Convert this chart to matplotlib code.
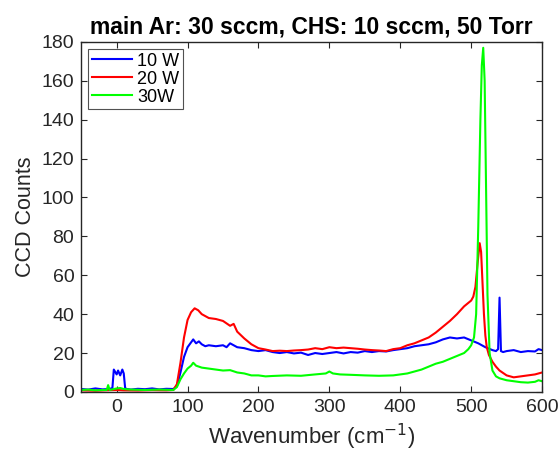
import matplotlib
matplotlib.use('Agg')
import matplotlib.pyplot as plt

plt.rcParams['font.family'] = ['Liberation Sans', 'DejaVu Sans']

# 10 W
x_10 = [-50, -40, -30, -20, -10, -6, -4, 0, 2, 5, 8, 10, 12, 14, 20, 30, 40, 50, 60, 70, 80,
        85, 90, 95, 100, 105, 108, 112, 116, 120, 125, 130, 140, 150, 155, 160, 170, 180, 190,
        200, 210, 220, 230, 240, 250, 260, 270, 280, 290, 300, 310, 320, 330, 340, 350, 360,
        370, 380, 390, 400, 410, 420, 430, 440, 450, 460, 470, 480, 490, 500, 510, 520, 530,
        535, 538, 540, 542, 545, 550, 560, 570, 580, 590, 595, 600]
y_10 = [1.5, 1.2, 1.8, 1.3, 1.5, 2.0, 11.5, 9.0, 11.0, 8.5, 11.5, 9.5, 2.0, 1.5, 1.2, 1.6, 1.4, 1.8, 1.3, 1.6, 1.5,
        3.0, 10.0, 18.0, 23.0, 25.5, 27.0, 25.0, 26.0, 24.5, 23.5, 24.0, 23.5, 24.0, 23.0, 25.0, 23.0, 22.5, 21.5,
        21.0, 21.5, 20.5, 20.0, 20.5, 19.8, 20.2, 19.0, 20.0, 19.5, 20.0, 20.5, 19.8, 20.5, 20.2, 21.0, 20.5,
        21.0, 20.8, 21.5, 22.0, 22.5, 23.5, 24.0, 24.5, 25.5, 27.0, 28.0, 27.5, 28.0, 26.5, 25.0, 23.0, 21.5,
        21.0, 22.0, 48.5, 21.0, 20.5, 21.0, 21.5, 20.5, 21.0, 20.8, 22.0, 21.5]

# 20 W
x_20 = [-50, -30, -10, 0, 10, 30, 50, 70, 80, 85, 90, 95, 100, 105, 110, 115, 120, 130, 140,
        150, 160, 165, 170, 180, 190, 200, 210, 220, 230, 240, 250, 260, 270, 280, 290, 300, 310,
        320, 330, 340, 350, 360, 370, 380, 390, 400, 410, 420, 430, 440, 450, 460, 470, 480, 490,
        495, 500, 503, 506, 509, 512, 514, 516, 518, 520, 522, 525, 530, 535, 540, 550, 560, 570,
        580, 590, 600]
y_20 = [0.8, 0.6, 0.9, 1.0, 0.8, 0.7, 0.9, 0.8, 1.0, 4.0, 15.0, 28.0, 37.0, 41.0, 43.0, 42.0, 40.0, 38.0, 37.5,
        36.5, 34.0, 35.0, 31.0, 27.5, 24.5, 22.5, 21.8, 21.0, 21.2, 21.0, 21.3, 21.5, 21.8, 22.5, 22.0, 23.0, 22.5,
        22.8, 22.5, 22.2, 21.8, 21.5, 21.3, 21.0, 22.0, 22.5, 24.0, 25.0, 26.5, 28.0, 30.5, 33.5, 36.5, 40.0, 44.0,
        45.5, 47.0, 49.0, 54.0, 66.0, 76.5, 72.0, 56.0, 40.0, 29.0, 23.0, 19.0, 15.5, 13.0, 11.0, 8.5, 7.5, 8.0,
        8.5, 9.0, 10.0]

# 30W
x_30 = [-50, -40, -30, -20, -14, -12, -10, 0, 5, 10, 20, 40, 60, 80, 85, 90, 95, 100, 105, 108,
        112, 120, 130, 140, 150, 160, 170, 180, 190, 200, 210, 220, 240, 260, 280, 295, 300, 305,
        315, 330, 350, 370, 390, 400, 410, 420, 430, 440, 450, 460, 470, 480, 490, 496, 500, 504,
        507, 510, 513, 515, 517, 519, 521, 523, 526, 530, 535, 540, 550, 560, 570, 580, 590, 595, 600]
y_30 = [1.0, 1.2, 0.8, 1.0, 1.0, 3.5, 1.0, 1.8, 2.0, 1.5, 1.2, 1.0, 1.2, 1.0, 2.5, 6.5, 9.5, 12.0, 13.5, 15.0,
        13.5, 12.5, 12.0, 11.5, 11.0, 11.2, 10.0, 9.5, 8.5, 8.5, 8.0, 8.2, 8.5, 8.3, 9.0, 9.5, 10.5, 9.5,
        9.0, 8.8, 8.5, 8.3, 8.5, 9.0, 9.5, 10.5, 11.5, 13.0, 14.5, 15.5, 17.0, 18.5, 20.0, 22.0, 24.0, 28.0,
        40.0, 85.0, 140.0, 168.0, 177.0, 160.0, 105.0, 50.0, 20.0, 11.0, 8.0, 7.0, 6.0, 5.5, 5.0, 4.8, 5.2, 6.0, 5.5]

fig = plt.figure(figsize=(5.6, 4.51), dpi=100)
ax = fig.add_axes([0.145, 0.131, 0.823, 0.776])

ax.plot(x_10, y_10, color='#0000ff', lw=1.5, label='10 W')
ax.plot(x_20, y_20, color='#ff0000', lw=1.5, label='20 W')
ax.plot(x_30, y_30, color='#00ff00', lw=1.5, label='30W')

ax.set_xlim(-50, 600)
ax.set_ylim(0, 180)
ax.set_xticks(range(0, 601, 100))
ax.set_yticks(range(0, 181, 20))
ax.tick_params(direction='in', top=True, right=True, labelsize=14, length=4, pad=5,
               color='#262626', labelcolor='#262626')
for s in ax.spines.values():
    s.set_color('#262626')
    s.set_linewidth(1.0)

ax.set_xlabel('Wavenumber (cm$^{-1}$)', fontsize=16, color='#262626')
ax.set_ylabel('CCD Counts', fontsize=15.5, color='#262626')
ax.set_title('main Ar: 30 sccm, CHS: 10 sccm, 50 Torr', fontsize=16.5, fontweight='bold')

leg = ax.legend(loc='upper left', fontsize=13, frameon=True, fancybox=False,
                borderpad=0.2, labelspacing=0.05, handlelength=2.2, handletextpad=0.3,
                borderaxespad=0.4)
leg.get_frame().set_edgecolor('#262626')
leg.get_frame().set_linewidth(0.8)

plt.savefig('out.png', dpi=100)
